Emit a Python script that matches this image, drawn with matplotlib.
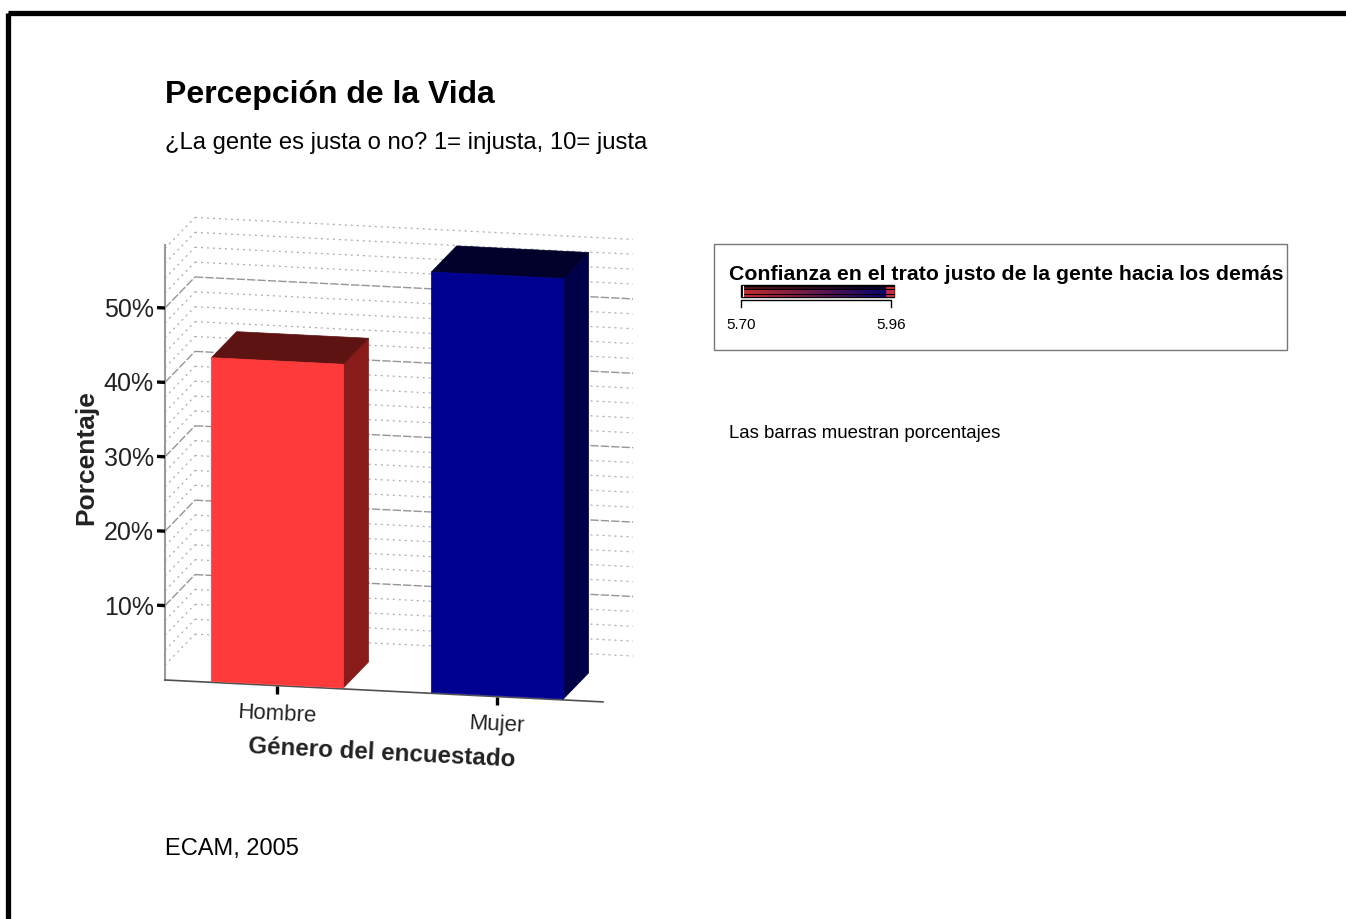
import matplotlib
matplotlib.use("Agg")
import matplotlib.pyplot as plt
import numpy as np
from matplotlib.patches import Polygon, Rectangle
from matplotlib.transforms import Affine2D
from matplotlib.lines import Line2D
from matplotlib.collections import LineCollection
from matplotlib.colors import to_rgb

plt.rcParams['font.family'] = ['Liberation Sans', 'DejaVu Sans']

# ---------------- data ----------------
categories = ["Hombre", "Mujer"]
percentages = [43.5, 56.5]
front_colors = ["#FF3A3A", "#000090"]
side_colors = ["#8A1B1B", "#000048"]
top_colors = ["#5E1313", "#00002A"]
y_ticks = [10, 20, 30, 40, 50]
y_tick_labels = ["10%", "20%", "30%", "40%", "50%"]
y_max = 58.5
grid_values = list(range(2, 59, 2))
major_grid = [10, 20, 30, 40, 50]
title = "Percepción de la Vida"
subtitle = "¿La gente es justa o no? 1= injusta, 10= justa"
x_title = "Género del encuestado"
y_title = "Porcentaje"
legend_title = "Confianza en el trato justo de la gente hacia los demás"
legend_labels = ["5.70", "5.96"]
note = "Las barras muestran porcentajes"
source = "ECAM, 2005"

# ---------------- figure ----------------
W, H = 1346, 919
fig = plt.figure(figsize=(W / 100, H / 100), dpi=100)
ax = fig.add_axes([0, 0, 1, 1])
ax.set_xlim(0, W)
ax.set_ylim(H, 0)
ax.axis('off')

# chart transform: (category position, percent) -> pixel, with an oblique shear
SX, X0 = 220.0, 276.5
SY, Y0 = 7.44, 685.575
SLOPE = 11.0
chart = Affine2D.from_values(SX, SLOPE, 0, -SY, X0, Y0) + ax.transData

U_L = (165 - X0) / SX
U_R = (603 - X0) / SX
DU, DV = 30 / SX, 4.37  # depth of the back wall

# grid lines (left wall + back wall)
for v in grid_values:
    major = v in major_grid
    kw = dict(color="#959595" if major else "#acacac",
              lw=1.0 if major else 0.9,
              dashes=(6, 1.5) if major else (1.6, 3.2),
              transform=chart, zorder=1)
    ax.add_line(Line2D([U_L, U_L + DU], [v, v + DV], **kw))
    ax.add_line(Line2D([U_L + DU, U_R + DU], [v + DV, v + DV], **kw))

# axes lines
ax.add_line(Line2D([U_L, U_L], [0, y_max], color="#9a9a9a", lw=1.5,
                   transform=chart, zorder=2))
ax.add_line(Line2D([U_L, U_R], [0, 0], color="#505050", lw=1.2,
                   transform=chart, zorder=2))

# y ticks and labels
for v, lab in zip(y_ticks, y_tick_labels):
    ax.add_line(Line2D([U_L - 8 / SX, U_L], [v, v], color="black", lw=2.4,
                       solid_capstyle="butt", transform=chart, zorder=4))
    ax.text(U_L - 11 / SX, v - 2.5 / SY, lab, transform=chart, ha="right",
            va="center", fontsize=18, color="#222222")

# bars
half_w = 0.3
f0, f1 = 0.03, 0.87
for i, (val, cf, cs, ct) in enumerate(zip(percentages, front_colors,
                                          side_colors, top_colors)):
    l, r = i - half_w, i + half_w
    a = (f0 * DU, f0 * DV)
    b = (f1 * DU, f1 * DV)
    front = [(l + a[0], a[1]), (r + a[0], a[1]),
             (r + a[0], val + a[1]), (l + a[0], val + a[1])]
    side = [(r + a[0], a[1]), (r + b[0], b[1]),
            (r + b[0], val + b[1]), (r + a[0], val + a[1])]
    top = [(l + a[0], val + a[1]), (r + a[0], val + a[1]),
           (r + b[0], val + b[1]), (l + b[0], val + b[1])]
    for pts, c in ((side, cs), (top, ct), (front, cf)):
        ax.add_patch(Polygon(pts, closed=True, facecolor=c, edgecolor=c,
                             lw=0.5, transform=chart, zorder=3))
    # x tick
    ax.add_line(Line2D([i, i], [0, -8 / SY], color="black", lw=2.4,
                       solid_capstyle="butt", transform=chart, zorder=4))
    ax.text(i, -3.85, categories[i], transform=chart, ha="center", va="center",
            rotation=-2.9, rotation_mode="anchor", fontsize=16, color="#222222")

ax.text(0.48, -8.45, x_title, transform=chart, ha="center", va="center",
        rotation=-2.9, rotation_mode="anchor", fontsize=17.4, fontweight="bold",
        color="#222222")
ax.text(86, 458, y_title, ha="center", va="center", rotation=90,
        fontsize=19, fontweight="bold", color="#222222")

# titles and notes
ax.text(165, 95, title, ha="left", va="center", fontsize=23, fontweight="bold")
ax.text(165, 143, subtitle, ha="left", va="center", fontsize=17.2)
ax.text(165, 849, source, ha="left", va="center", fontsize=17)
ax.text(729, 433, note, ha="left", va="center", fontsize=13.45)

# legend
ax.add_patch(Rectangle((714, 244), 573, 106, facecolor="none",
                       edgecolor="#777777", lw=1.0, zorder=2))
ax.text(729, 274, legend_title, ha="left", va="center", fontsize=15.35,
        fontweight="bold")

# colour strip of the legend (red -> blue gradient stripes)
c0 = np.array(to_rgb("#FF3A3A"))
c1 = np.array(to_rgb("#000090"))
ax.add_patch(Rectangle((741, 285), 153, 12, facecolor="black",
                       edgecolor="black", lw=1.0, zorder=3))
xs = np.arange(743, 893, 1.0)
tt = (xs - xs[0]) / (xs[-1] - xs[0])
cols = c0[None, :] * (1 - tt[:, None]) + c1[None, :] * tt[:, None]
for ys, shade in ((288.2, 0.45), (290.8, 1.0), (293.4, 1.0), (295.6, 1.0)):
    segs = [[(x, ys), (x + 1.05, ys)] for x in xs]
    ax.add_collection(LineCollection(segs, colors=cols * shade, linewidths=1.1,
                                     zorder=4))
    ax.add_line(Line2D([887, 894], [ys, ys], color="#FF3A3A", lw=1.1, zorder=4))
ax.add_line(Line2D([742.5, 742.5], [286, 296], color="white", lw=0.8, zorder=4))
ax.add_line(Line2D([741, 741, 891, 891], [307, 300, 300, 307], color="black",
                   lw=1.0, zorder=4))
ax.text(741, 325, legend_labels[0], ha="center", va="center", fontsize=11)
ax.text(891, 325, legend_labels[1], ha="center", va="center", fontsize=11)

# outer border (runs off the right and bottom edges)
ax.add_patch(Rectangle((8, 12.5), 1600, 1200, facecolor="none",
                       edgecolor="black", lw=3.8, zorder=5))

ax.set_xlim(0, W)
ax.set_ylim(H, 0)
fig.savefig("out.png", dpi=100)
